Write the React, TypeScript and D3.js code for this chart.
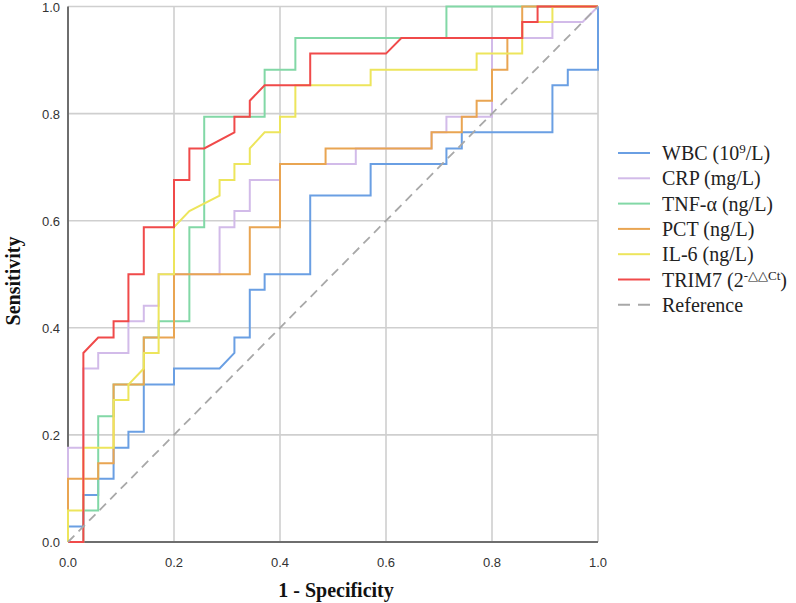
import { useEffect, useRef } from 'react';
import * as d3 from 'd3';

type Pt = [number, number];

// tick values (same for both axes)
const ticks = [0, 0.2, 0.4, 0.6, 0.8, 1.0];

// ROC vertices: [1 - specificity, sensitivity]
const wbc: Pt[] = [
  [0, 0], [0, 0.029], [0.029, 0.029], [0.029, 0.088], [0.057, 0.088], [0.057, 0.118],
  [0.086, 0.118], [0.086, 0.176], [0.114, 0.176], [0.114, 0.206], [0.143, 0.206],
  [0.143, 0.294], [0.2, 0.294], [0.2, 0.324], [0.286, 0.324], [0.314, 0.353],
  [0.314, 0.382], [0.343, 0.382], [0.343, 0.471], [0.371, 0.471], [0.371, 0.5],
  [0.457, 0.5], [0.457, 0.647], [0.571, 0.647], [0.571, 0.706], [0.714, 0.706],
  [0.714, 0.735], [0.743, 0.735], [0.743, 0.765], [0.914, 0.765], [0.914, 0.853],
  [0.943, 0.853], [0.943, 0.882], [1, 0.882], [1, 1],
];

const crp: Pt[] = [
  [0, 0], [0, 0.176], [0.029, 0.176], [0.029, 0.324], [0.057, 0.324], [0.057, 0.353],
  [0.114, 0.353], [0.114, 0.412], [0.143, 0.412], [0.143, 0.441], [0.171, 0.441],
  [0.171, 0.5], [0.286, 0.5], [0.286, 0.588], [0.314, 0.588], [0.314, 0.618],
  [0.343, 0.618], [0.343, 0.676], [0.4, 0.676], [0.4, 0.706], [0.543, 0.706],
  [0.543, 0.735], [0.686, 0.735], [0.686, 0.765], [0.714, 0.765], [0.714, 0.794],
  [0.8, 0.794], [0.8, 0.941], [0.914, 0.941], [0.914, 0.971], [0.971, 0.971], [1, 1],
];

const tnf: Pt[] = [
  [0, 0], [0.029, 0], [0.029, 0.059], [0.057, 0.059], [0.057, 0.235], [0.086, 0.235],
  [0.086, 0.294], [0.143, 0.294], [0.143, 0.382], [0.171, 0.382], [0.171, 0.412],
  [0.229, 0.412], [0.229, 0.588], [0.257, 0.588], [0.257, 0.794], [0.371, 0.794],
  [0.371, 0.882], [0.429, 0.882], [0.429, 0.941], [0.714, 0.941], [0.714, 1], [1, 1],
];

const pct: Pt[] = [
  [0, 0], [0, 0.118], [0.057, 0.118], [0.057, 0.147], [0.086, 0.147], [0.086, 0.294],
  [0.143, 0.294], [0.143, 0.382], [0.2, 0.382], [0.2, 0.5], [0.343, 0.5], [0.343, 0.588],
  [0.4, 0.588], [0.4, 0.706], [0.486, 0.706], [0.486, 0.735], [0.686, 0.735],
  [0.686, 0.765], [0.743, 0.765], [0.743, 0.794], [0.771, 0.794], [0.771, 0.824],
  [0.8, 0.824], [0.8, 0.882], [0.829, 0.882], [0.829, 0.941], [0.857, 0.941],
  [0.857, 1], [1, 1],
];

const il6: Pt[] = [
  [0, 0], [0, 0.059], [0.029, 0.059], [0.029, 0.176], [0.086, 0.176], [0.086, 0.265],
  [0.114, 0.265], [0.114, 0.294], [0.143, 0.324], [0.143, 0.353], [0.171, 0.353],
  [0.171, 0.5], [0.2, 0.5], [0.2, 0.588], [0.229, 0.618], [0.286, 0.647], [0.286, 0.676],
  [0.314, 0.676], [0.314, 0.706], [0.343, 0.706], [0.343, 0.735], [0.371, 0.765],
  [0.4, 0.765], [0.4, 0.794], [0.429, 0.794], [0.429, 0.853], [0.571, 0.853],
  [0.571, 0.882], [0.771, 0.882], [0.771, 0.912], [0.857, 0.912], [0.857, 0.971],
  [0.914, 0.971], [0.914, 1], [1, 1],
];

const trim7: Pt[] = [
  [0, 0], [0.029, 0], [0.029, 0.353], [0.057, 0.382], [0.086, 0.382], [0.086, 0.412],
  [0.114, 0.412], [0.114, 0.5], [0.143, 0.5], [0.143, 0.588], [0.2, 0.588], [0.2, 0.676],
  [0.229, 0.676], [0.229, 0.735], [0.257, 0.735], [0.314, 0.765], [0.314, 0.794],
  [0.343, 0.794], [0.343, 0.824], [0.371, 0.853], [0.457, 0.853], [0.457, 0.912],
  [0.6, 0.912], [0.629, 0.941], [0.857, 0.941], [0.857, 0.971], [0.886, 0.971],
  [0.886, 1], [1, 1],
];

const reference: Pt[] = [[0, 0], [1, 1]];

const seriesData = [wbc, crp, tnf, pct, il6, trim7];
const seriesColors = ['#6a9fe3', '#d2bbe9', '#82d8a6', '#e9a552', '#ede55c', '#f04a4a'];

// legend text: base, superscript, tail
const legendLabels: [string, string, string][] = [
  ['WBC (10', '9', '/L)'],
  ['CRP (mg/L)', '', ''],
  ['TNF-α (ng/L)', '', ''],
  ['PCT (ng/L)', '', ''],
  ['IL-6 (ng/L)', '', ''],
  ['TRIM7 (2', '-△△Ct', ')'],
  ['Reference', '', ''],
];

const App = () => {
  const ref = useRef<SVGSVGElement>(null);

  useEffect(() => {
    if (!ref.current) return;
    const svg = d3.select(ref.current);
    svg.selectAll('*').remove();

    const left = 68;
    const right = 598;
    const top = 6.5;
    const bottom = 542;

    const x = d3.scaleLinear().domain([0, 1]).range([left, right]);
    const y = d3.scaleLinear().domain([0, 1]).range([bottom, top]);

    // grid
    const grid = svg.append('g');
    grid
      .selectAll('line.v')
      .data(ticks.slice(1))
      .join('line')
      .attr('x1', (d) => x(d))
      .attr('x2', (d) => x(d))
      .attr('y1', top)
      .attr('y2', bottom)
      .attr('stroke', '#cfcfcf')
      .attr('stroke-width', 1.6);
    grid
      .selectAll('line.h')
      .data(ticks.slice(1))
      .join('line')
      .attr('x1', left)
      .attr('x2', right)
      .attr('y1', (d) => y(d))
      .attr('y2', (d) => y(d))
      .attr('stroke', '#cfcfcf')
      .attr('stroke-width', 1.6);

    // axes lines
    svg
      .append('line')
      .attr('x1', left)
      .attr('x2', left)
      .attr('y1', top)
      .attr('y2', bottom)
      .attr('stroke', '#6e6e6e')
      .attr('stroke-width', 2);
    svg
      .append('line')
      .attr('x1', left)
      .attr('x2', right)
      .attr('y1', bottom)
      .attr('y2', bottom)
      .attr('stroke', '#6e6e6e')
      .attr('stroke-width', 2);

    // tick labels
    const fmt = d3.format('.1f');
    svg
      .append('g')
      .selectAll('text')
      .data(ticks)
      .join('text')
      .attr('x', (d) => x(d))
      .attr('y', bottom + 25)
      .attr('text-anchor', 'middle')
      .attr('font-family', 'Liberation Sans, Arial, sans-serif')
      .attr('font-size', 13)
      .attr('fill', '#333')
      .text((d) => fmt(d));
    svg
      .append('g')
      .selectAll('text')
      .data(ticks)
      .join('text')
      .attr('x', left - 8)
      .attr('y', (d) => y(d) + 5)
      .attr('text-anchor', 'end')
      .attr('font-family', 'Liberation Sans, Arial, sans-serif')
      .attr('font-size', 13)
      .attr('fill', '#333')
      .text((d) => fmt(d));

    // axis titles
    svg
      .append('text')
      .attr('x', 336)
      .attr('y', 597)
      .attr('text-anchor', 'middle')
      .attr('font-family', 'Liberation Serif, Times New Roman, serif')
      .attr('font-weight', 'bold')
      .attr('font-size', 20)
      .attr('fill', '#111')
      .text('1 - Specificity');
    svg
      .append('text')
      .attr('transform', `translate(20,281) rotate(-90)`)
      .attr('text-anchor', 'middle')
      .attr('font-family', 'Liberation Serif, Times New Roman, serif')
      .attr('font-weight', 'bold')
      .attr('font-size', 20)
      .attr('fill', '#111')
      .text('Sensitivity');

    // curves
    const line = d3
      .line<Pt>()
      .x((d) => x(d[0]))
      .y((d) => y(d[1]));

    seriesData.forEach((data, i) => {
      svg
        .append('path')
        .datum(data)
        .attr('d', line)
        .attr('fill', 'none')
        .attr('stroke', seriesColors[i])
        .attr('stroke-width', 2)
        .attr('stroke-linejoin', 'miter');
    });

    svg
      .append('path')
      .datum(reference)
      .attr('d', line)
      .attr('fill', 'none')
      .attr('stroke', '#a8a8a8')
      .attr('stroke-width', 1.8)
      .attr('stroke-dasharray', '9,6');

    // legend
    const lg = svg.append('g').attr('transform', 'translate(618,153)');
    const rowH = 25.3;
    legendLabels.forEach((lab, i) => {
      const row = lg.append('g').attr('transform', `translate(0,${i * rowH})`);
      const isRef = i === legendLabels.length - 1;
      row
        .append('line')
        .attr('x1', 0)
        .attr('x2', 32)
        .attr('y1', 0)
        .attr('y2', 0)
        .attr('stroke', isRef ? '#a8a8a8' : seriesColors[i])
        .attr('stroke-width', 2)
        .attr('stroke-dasharray', isRef ? '12,8' : null);
      const t = row
        .append('text')
        .attr('x', 44)
        .attr('y', 7)
        .attr('font-family', 'Liberation Serif, Times New Roman, serif')
        .attr('font-size', 20)
        .attr('fill', '#222');
      t.append('tspan').text(lab[0]);
      if (lab[1]) {
        t.append('tspan').attr('dy', -7).attr('font-size', 13).text(lab[1]);
        t.append('tspan').attr('dy', 7).text(lab[2]);
      }
    });
  }, []);

  return (
    <div style={{ position: 'absolute', left: 0, top: 0 }}>
      <svg ref={ref} width={796} height={603} style={{ display: 'block', background: '#fff' }} />
    </div>
  );
};

export default App;
